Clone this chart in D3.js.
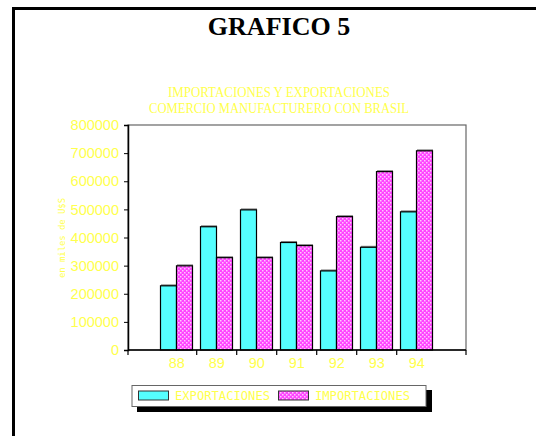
<!DOCTYPE html>
<html><head><meta charset="utf-8">
<script src="https://cdn.jsdelivr.net/npm/d3@7"></script>
<style>html,body{margin:0;padding:0;background:#fff;}svg{display:block;}</style>
</head><body>
<script>
const categories = ["88","89","90","91","92","93","94"];
const exportaciones = [230000, 440000, 500000, 384000, 283000, 367000, 493000];
const importaciones = [301000, 330000, 330000, 373000, 476000, 636000, 710000];
const yTicks = [0,100000,200000,300000,400000,500000,600000,700000,800000];
const seriesNames = ["EXPORTACIONES","IMPORTACIONES"];
const mainTitle = "GRAFICO 5";
const chartTitle = ["IMPORTACIONES Y EXPORTACIONES","COMERCIO MANUFACTURERO CON BRASIL"];
const yLabel = "en miles de U$S";

const W=536,H=436;
const yellow="#ffff4d", cyan="#55ffff", magenta="#ff44ff";
const svg=d3.select("body").append("svg").attr("width",W).attr("height",H);
const defs=svg.append("defs");
const pat=defs.append("pattern").attr("id","chk").attr("patternUnits","userSpaceOnUse").attr("width",4).attr("height",4);
pat.append("rect").attr("width",4).attr("height",4).attr("fill",magenta);
pat.append("rect").attr("x",0).attr("y",0).attr("width",1.5).attr("height",1.5).attr("fill","#ffc8ff");
pat.append("rect").attr("x",2).attr("y",2).attr("width",1.5).attr("height",1.5).attr("fill","#ffc8ff");

// page frame
svg.append("path").attr("d","M13.5,436 V8.5 H536").attr("fill","none").attr("stroke","#000").attr("stroke-width",3);

svg.append("text").attr("x",279).attr("y",35).attr("text-anchor","middle")
  .attr("font-family","Liberation Serif, Times New Roman, serif").attr("font-weight","bold").attr("font-size",26)
  .attr("fill","#000").text(mainTitle);

svg.selectAll("text.ct").data(chartTitle).enter().append("text").attr("class","ct")
  .attr("x",279).attr("y",(d,i)=>96.5+i*16).attr("text-anchor","middle")
  .attr("font-family","Liberation Serif, serif").attr("font-size",15.5).attr("fill",yellow)
  .attr("textLength",(d,i)=>i===0?222:260).attr("lengthAdjust","spacingAndGlyphs").text(d=>d);

const L=128,R=466,T=125,B=350;
const band=40;
const x=d3.scaleBand().domain(categories).range([L+28.7, L+28.7+band*categories.length]).paddingInner(0).paddingOuter(0);
const y=d3.scaleLinear().domain([0,800000]).range([B,T]);

// plot border
svg.append("rect").attr("x",L).attr("y",T).attr("width",R-L).attr("height",B-T).attr("fill","#fff").attr("stroke","#666").attr("stroke-width",1.2);

// bars
const bw=16;
const g=svg.append("g");
categories.forEach((c,i)=>{
  const cx=x(c)+x.bandwidth()/2-0.7;
  [[exportaciones[i],cyan,cx-bw],[importaciones[i],"url(#chk)",cx]].forEach(([v,f,x0])=>{
    g.append("rect").attr("x",x0+1).attr("y",y(v)-1).attr("width",bw).attr("height",B-y(v)+1).attr("fill","#888");
    g.append("rect").attr("x",x0+0.5).attr("y",y(v)+0.5).attr("width",bw).attr("height",B-y(v)-0.5)
      .attr("fill",f).attr("stroke","#000").attr("stroke-width",1.2);
  });
});

// y axis
const yAx=svg.append("g").attr("transform",`translate(${L},0)`)
  .call(d3.axisLeft(y).tickValues(yTicks).tickFormat(d3.format("d")).tickSize(4).tickPadding(5));
yAx.select(".domain").attr("stroke","#000").attr("stroke-width",1.5);
yAx.selectAll(".tick line").attr("stroke","#000");
yAx.selectAll("text").attr("fill",yellow).attr("font-family","Liberation Sans, Arial, sans-serif").attr("font-size",14.5);

// x axis
const xAx=svg.append("g").attr("transform",`translate(0,${B})`)
  .call(d3.axisBottom(x).tickSize(0).tickPadding(8));
xAx.select(".domain").remove();
xAx.selectAll("text").attr("fill",yellow).attr("font-family","Liberation Sans, Arial, sans-serif").attr("font-size",14.5);
svg.append("line").attr("x1",L).attr("x2",R).attr("y1",B).attr("y2",B).attr("stroke","#000").attr("stroke-width",1.5);
const bounds=[L].concat(categories.slice(1).map(c=>x(c))).concat([R]);
svg.selectAll("line.xt").data(bounds).enter().append("line").attr("class","xt")
  .attr("x1",d=>d).attr("x2",d=>d).attr("y1",B).attr("y2",B+5).attr("stroke","#000").attr("stroke-width",1.2);

// y label
svg.append("text").attr("transform","translate(65,238) rotate(-90)").attr("text-anchor","middle")
  .attr("font-family","DejaVu Sans Mono, monospace").attr("font-size",9).attr("fill",yellow)
  .attr("textLength",80).attr("lengthAdjust","spacingAndGlyphs").text(yLabel);

// legend
const lg=svg.append("g");
lg.append("rect").attr("x",137).attr("y",390).attr("width",295).attr("height",22).attr("fill","#000");
lg.append("rect").attr("x",132).attr("y",385.5).attr("width",294).attr("height",21).attr("fill","#fff").attr("stroke","#666").attr("stroke-width",1);
const items=[{n:seriesNames[0],f:cyan,sx:138.5,tx:175},{n:seriesNames[1],f:"url(#chk)",sx:278.5,tx:315}];
items.forEach(it=>{
  lg.append("rect").attr("x",it.sx).attr("y",391).attr("width",30).attr("height",9).attr("fill",it.f).attr("stroke","#333").attr("stroke-width",1);
  lg.append("text").attr("x",it.tx).attr("y",400).attr("font-family","DejaVu Sans Mono, monospace").attr("font-size",11.5)
    .attr("fill",yellow).attr("textLength",95).attr("lengthAdjust","spacingAndGlyphs").text(it.n);
});
</script>
</body></html>
